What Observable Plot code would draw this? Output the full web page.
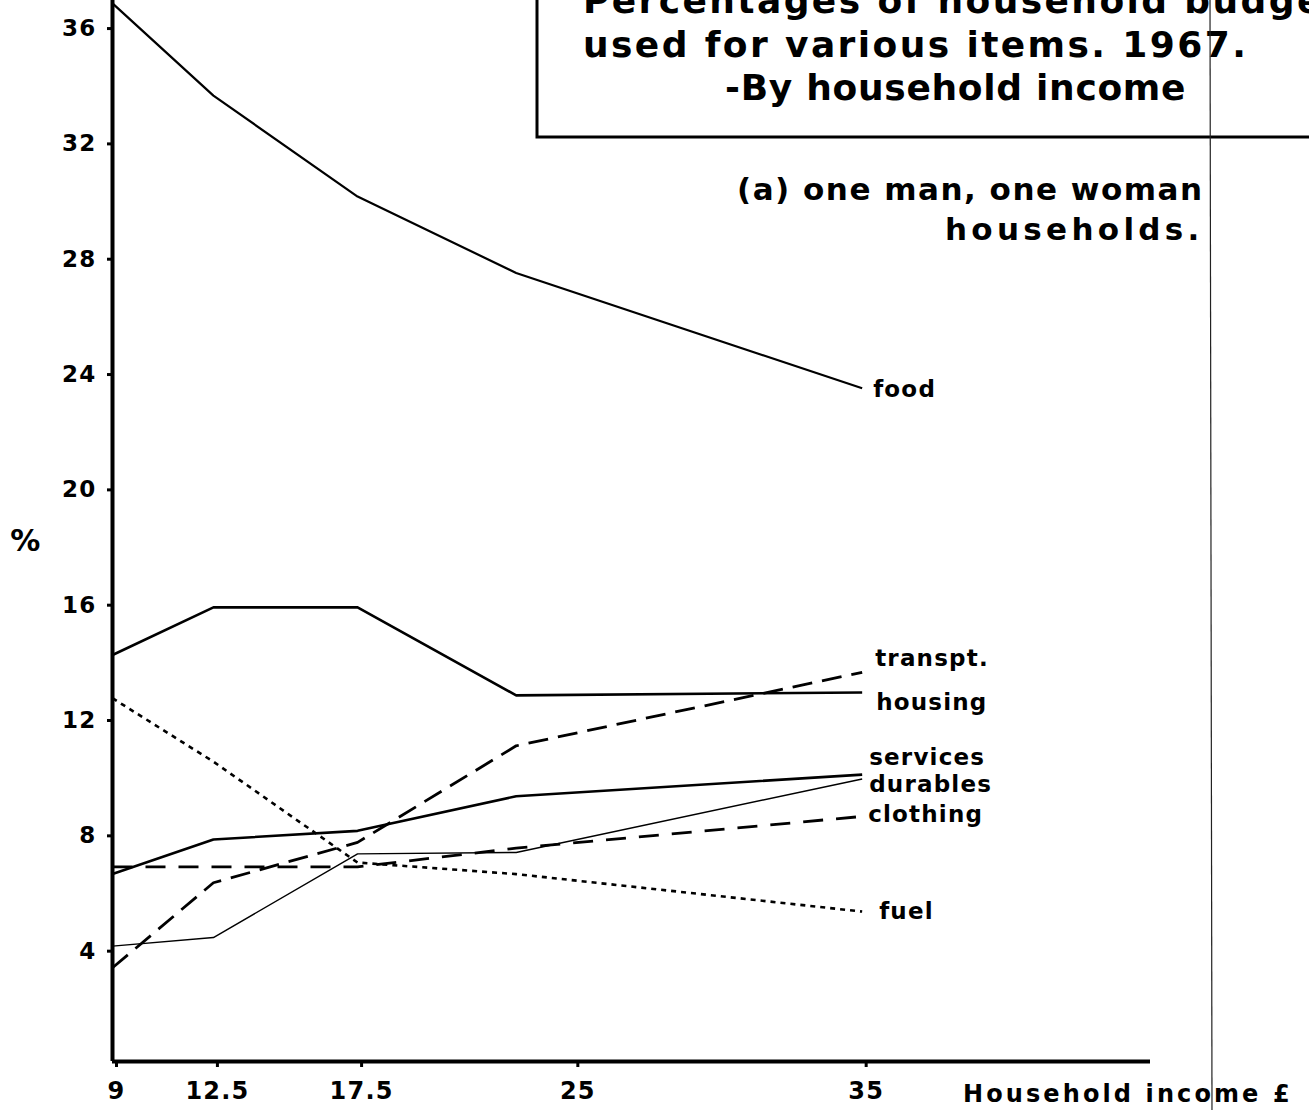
<!DOCTYPE html>
<html>
<head>
<meta charset="utf-8">
<script src="https://cdn.jsdelivr.net/npm/d3@7"></script>
<script src="https://cdn.jsdelivr.net/npm/@observablehq/plot@0.6"></script>
<style>
  html, body { margin: 0; padding: 0; background: #fff; }
  #chart svg text { letter-spacing: 1.2px; }
</style>
</head>
<body>
<div id="chart"></div>
<script>
// ---- data ----
const incomes   = [9, 12.5, 17.5, 23, 35];           // household income £ (x of each plotted point)
const food      = [36.7, 33.5, 30.0, 27.35, 23.35];
const housing   = [14.1, 15.75, 15.75, 12.7, 12.8];
const transport = [3.25, 6.2, 7.6, 10.95, 13.5];
const services  = [6.5, 7.7, 8.0, 9.2, 9.95];
const durables  = [4.0, 4.3, 7.2, 7.25, 9.8];
const clothing  = [6.75, 6.75, 6.75, 7.4, 8.5];
const fuel      = [12.6, 10.4, 6.9, 6.5, 5.2];

const xTicks = [9, 12.5, 17.5, 25, 35];
const xTickLabels = ["9", "12.5", "17.5", "25", "35"];
const yTicks = [4, 8, 12, 16, 20, 24, 28, 32, 36];

const titleLines = ["Percentages of household budget", "used for various items. 1967.", "-By household income"];
const subtitleLines = ["(a) one man, one woman", "households."];
const xLabel = "Household income £";
const yLabel = "%";

// ---- styling of each series (not data) ----
const seriesDefs = [
  {name: "food",      values: food,      width: 2.2, dash: null,    dx: 11, dy: 1},
  {name: "housing",   values: housing,   width: 2.6, dash: null,    dx: 14, dy: 10},
  {name: "transpt.",  values: transport, width: 2.8, dash: "20,10", dx: 13, dy: -14},
  {name: "services",  values: services,  width: 2.6, dash: null,    dx: 7,  dy: -17},
  {name: "durables",  values: durables,  width: 1.4, dash: null,    dx: 7,  dy: 6},
  {name: "clothing",  values: clothing,  width: 2.8, dash: "20,13", dx: 6,  dy: -2},
  {name: "fuel",      values: fuel,      width: 2.6, dash: "5,5",   dx: 17, dy: 0}
];

const rows = seriesDefs.flatMap(s => incomes.map((x, i) => ({series: s.name, x, y: s.values[i]})));

const FONT = '"DejaVu Sans", sans-serif';
const W = 1309, H = 1110;

const marks = [
  Plot.axisY({ticks: yTicks, tickSize: 5, tickPadding: 11, fontSize: 23, dy: 5, strokeWidth: 3, label: null, tickFormat: d => String(d)}),
  Plot.axisX({ticks: xTicks, tickSize: 6, tickPadding: 14, fontSize: 24, strokeWidth: 3, label: null, dx: 4,
              tickFormat: d => xTickLabels[xTicks.indexOf(d)]}),
  Plot.ruleX([9], {stroke: "#000", strokeWidth: 4}),
  Plot.ruleY([0], {stroke: "#000", strokeWidth: 4})
];

for (const s of seriesDefs) {
  const data = rows.filter(r => r.series === s.name);
  marks.push(Plot.line(data, {x: "x", y: "y", stroke: "#000", strokeWidth: s.width,
    strokeDasharray: s.dash ?? undefined, strokeLinejoin: "miter", strokeLinecap: "butt"}));
  marks.push(Plot.text(data.slice(-1), {x: "x", y: "y", text: d => d.series, textAnchor: "start",
    dx: s.dx, dy: s.dy, fontSize: 23, fill: "#000"}));
}

const chart = Plot.plot({
  width: W, height: H,
  marginLeft: 112, marginRight: 159, marginTop: 0, marginBottom: 49,
  x: {domain: [9, 45]},
  y: {domain: [0, 36.8]},
  style: {fontFamily: FONT, fontWeight: "bold", background: "#fff", color: "#000"},
  marks
});
document.getElementById("chart").appendChild(chart);

// ---- annotations: title box, subtitle, axis names, scan fold line ----
const svg = d3.select(chart);
const ann = svg.append("g").attr("font-family", FONT).attr("font-weight", "bold")
  .attr("fill", "#000").attr("text-anchor", "start");

ann.append("rect").attr("x", 537).attr("y", -20).attr("width", 900).attr("height", 157)
  .attr("fill", "none").attr("stroke", "#000").attr("stroke-width", 3);

const titlePos = [[583, 13, 2.4], [583, 57, 2.4], [725, 100, 0.7]];
titleLines.forEach((t, i) => {
  ann.append("text").attr("x", titlePos[i][0]).attr("y", titlePos[i][1]).attr("text-anchor", "start")
    .attr("font-size", 36).style("letter-spacing", titlePos[i][2] + "px").text(t);
});
const subPos = [[737, 200, 1.5], [945, 240, 4.3]];
subtitleLines.forEach((t, i) => {
  ann.append("text").attr("x", subPos[i][0]).attr("y", subPos[i][1]).attr("text-anchor", "start")
    .attr("font-size", 31).style("letter-spacing", subPos[i][2] + "px").text(t);
});

ann.append("text").attr("x", 963).attr("y", 1102).attr("font-size", 24).attr("text-anchor", "start")
  .style("letter-spacing", "3.1px").text(xLabel);
ann.append("text").attr("x", 26).attr("y", 551).attr("font-size", 30)
  .attr("text-anchor", "middle").text(yLabel);

// vertical fold line visible in the scan
ann.append("line").attr("x1", 1210).attr("x2", 1212).attr("y1", 0).attr("y2", H)
  .attr("stroke", "#222").attr("stroke-width", 1.2);
</script>
</body>
</html>
